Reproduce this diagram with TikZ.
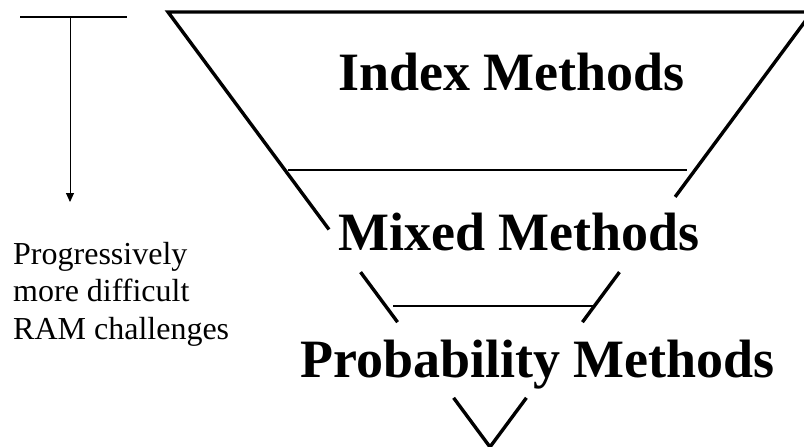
\documentclass[tikz,border=0pt]{standalone}
\usepackage{fontspec}
\setmainfont{Liberation Serif}
\usepackage{tikz}
\usetikzlibrary{arrows.meta,positioning,calc}

\begin{document}
\begin{tikzpicture}[
    x=1pt, y=-1pt,
    heading/.style={font=\bfseries\fontsize{54}{60}\selectfont, inner sep=0pt, anchor=base west},
    note/.style={font=\fontsize{32}{37.5}\selectfont, inner sep=0pt, anchor=north west, align=left},
    funnel/.style={draw, line width=3.4pt},
    divider/.style={draw, line width=1.6pt},
    pointer/.style={draw, line width=0.9pt, -{Triangle[length=9pt, width=8pt]}},
]
\useasboundingbox (0,0) rectangle (804,447);
\clip (0,0) rectangle (804,447);
% funnel corners
\coordinate (tl) at (168,12);
\coordinate (tr) at (812,12);
\coordinate (apex) at (490,447);
\draw[funnel] ($(tl)!0.50!(apex)$) -- (tl) -- (tr) -- ($(tr)!0.425!(apex)$);
\draw[funnel] ($(tl)!0.598!(apex)$) -- ($(tl)!0.713!(apex)$);
\draw[funnel] ($(tr)!0.598!(apex)$) -- ($(tr)!0.713!(apex)$);
\draw[funnel] ($(tl)!0.887!(apex)$) -- (apex) -- ($(tr)!0.887!(apex)$);
% layer dividers
\coordinate (d1l) at (288,170);
\coordinate (d1r) at (687,170);
\coordinate (d2l) at (393,306);
\coordinate (d2r) at (593,306);
\draw[divider] (d1l) -- (d1r);
\draw[divider] (d2l) -- (d2r);
% layer labels
\node[heading] (index) at (338,90) {Index Methods};
\node[heading] (mixed) at (338,250) {Mixed Methods};
\node[heading] (prob) at (300,377) {Probability Methods};
% difficulty pointer
\coordinate (barl) at (20,17);
\coordinate (barr) at (127,17);
\coordinate (ptop) at (70,17);
\coordinate (ptip) at (70,202);
\draw[line width=1.2pt] (barl) -- (barr);
\draw[pointer] (ptop) -- (ptip);
\node[note] (hint) at (13,242) {Progressively\\more difficult\\RAM challenges};
\end{tikzpicture}
\end{document}
